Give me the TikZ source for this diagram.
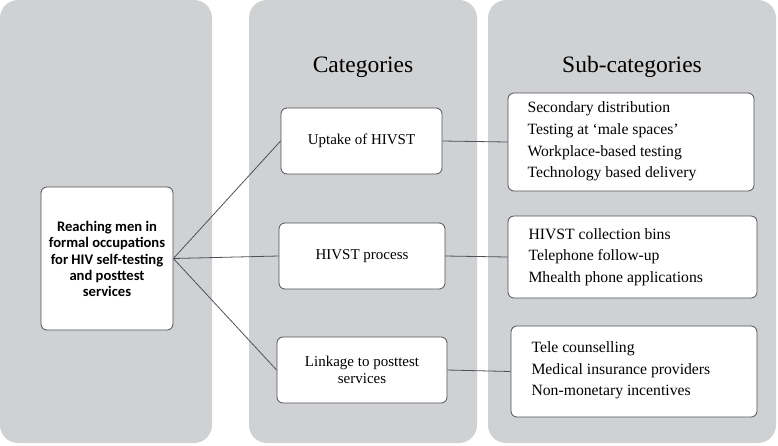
\documentclass[tikz,border=0pt]{standalone}
\usepackage{fontspec}
\setmainfont{Liberation Serif}
\newfontfamily\boldsans{Carlito}
\definecolor{panelgrey}{HTML}{D0D1D3}
\definecolor{edgegrey}{HTML}{4F5156}
\tikzset{
  panel/.style={fill=panelgrey, draw=none, rounded corners=18pt},
  wbox/.style={draw=edgegrey, fill=white, line width=0.8pt, rounded corners=6pt, inner sep=0pt},
  link/.style={draw=edgegrey, line width=0.8pt},
  cattext/.style={font=\fontsize{15}{17}\selectfont, align=center},
  subtext/.style={font=\fontsize{15.7}{21.7}\selectfont, align=left},
  title/.style={font=\fontsize{23.5}{26}\selectfont}
}
\begin{document}
\begin{tikzpicture}[x=1pt,y=-1pt]
\useasboundingbox (0,0) rectangle (778,445);
\fill[panel] (0,0) rectangle (212,443);
\fill[panel] (249,0) rectangle (477,443);
\fill[panel] (488,0) rectangle (776,443);
\node[title] (cattitle) at (363,67) {Categories};
\node[title] (subtitle) at (632,67) {Sub-categories};
% left box
\node[wbox, minimum width=132pt, minimum height=143pt] (main) at (107,258.5) {};
\node[font=\boldsans\bfseries\fontsize{14.6}{16.3}\selectfont, align=center] (maintext) at (107,259) {Reaching men in\\formal occupations\\for HIV self-testing\\and posttest\\services};
% categories
\node[wbox, minimum width=161pt, minimum height=66pt, cattext] (c1) at (361.5,141) {Uptake of HIVST};
\node[wbox, minimum width=166pt, minimum height=66pt, cattext] (c2) at (362,256) {HIVST process};
\node[wbox, minimum width=170pt, minimum height=66pt, cattext] (c3) at (362,370) {Linkage to posttest\\services};
% sub-categories
\node[wbox, minimum width=246pt, minimum height=98pt] (s1) at (631,142) {};
\node[wbox, minimum width=249pt, minimum height=82pt] (s2) at (632.5,257) {};
\node[wbox, minimum width=246pt, minimum height=91pt] (s3) at (634,371.5) {};
\node[subtext, anchor=west] (s1text) at (524,141.5) {Secondary distribution\\Testing at `male spaces'\\Workplace-based testing\\Technology based delivery};
\node[subtext, anchor=west] (s2text) at (525,257) {HIVST collection bins\\Telephone follow-up\\Mhealth phone applications};
\node[subtext, anchor=west] (s3text) at (528,370.5) {Tele counselling\\Medical insurance providers\\Non-monetary incentives};
% connectors
\draw[link] (main.east) -- (c1.west);
\draw[link] (main.east) -- (c2.west);
\draw[link] (main.east) -- (c3.west);
\draw[link] (c1.east) -- (s1.west);
\draw[link] (c2.east) -- (s2.west);
\draw[link] (c3.east) -- (s3.west);
\end{tikzpicture}
\end{document}
